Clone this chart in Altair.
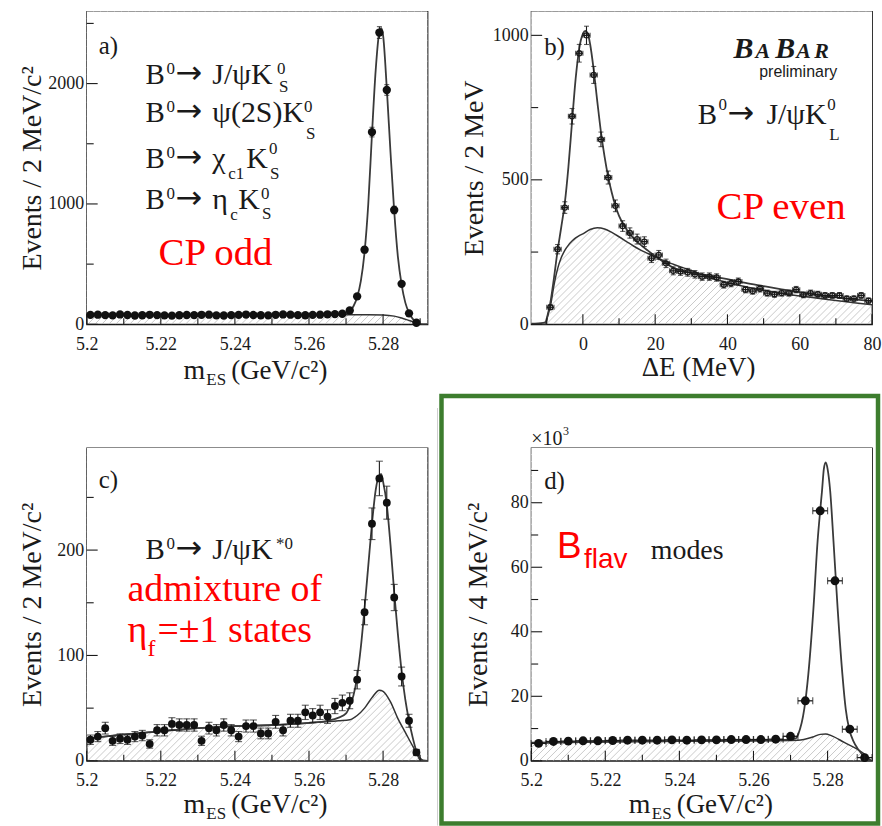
import altair as alt
import numpy as np
import pandas as pd

SERIF = "Liberation Serif"
SANS = "Liberation Sans"
ARROWF = "DejaVu Sans"
INK = "#1a1a1a"
RED = "#ff0000"
GREEN = "#3d7d2e"
W, H = 342, 314

# ---------------- data ----------------
# a) CP-odd modes, m_ES, 2 MeV bins
a_bins = [round(5.201 + 0.002 * i, 3) for i in range(45)]
a_counts = [78, 80, 76, 74, 82, 77, 73, 75, 79, 76, 74, 72, 75, 77, 76, 79, 80, 74,
            73, 76, 78, 81, 77, 75, 74, 79, 82, 80, 76, 75, 78, 80, 83, 85, 88,
            115, 232, 620, 1597, 2424, 1947, 950, 336, 91, 13]
a_fit_x = [5.200, 5.210, 5.220, 5.230, 5.240, 5.250, 5.260, 5.265, 5.268, 5.270, 5.271,
           5.272, 5.273, 5.274, 5.275, 5.276, 5.277, 5.278, 5.279, 5.2795, 5.280, 5.281,
           5.282, 5.283, 5.284, 5.285, 5.286, 5.287, 5.288, 5.289, 5.290, 5.292]
a_fit_y = [76, 76, 76.5, 77, 77, 77.5, 78, 79, 82, 92, 110, 150, 225, 360, 600, 1000,
           1580, 2110, 2430, 2460, 2400, 1960, 1430, 940, 560, 330, 180, 95, 45, 15, 2, 0]
a_bkg_x = [5.200, 5.220, 5.240, 5.260, 5.270, 5.276, 5.280, 5.283, 5.285, 5.287, 5.289,
           5.2905, 5.292]
a_bkg_y = [76, 76.5, 77, 78, 79, 80, 78, 68, 52, 32, 12, 0, 0]

# b) J/psi K_L, Delta E, 2 MeV bins
b_bins = list(range(-9, 80, 2))
b_counts = [59, 260, 404, 720, 938, 1000, 863, 640, 508, 410, 340, 316, 295, 286, 229,
            240, 211, 185, 183, 180, 173, 165, 165, 162, 137, 142, 148, 120, 115, 123,
            108, 104, 108, 108, 120, 102, 108, 104, 100, 100, 100, 89, 89, 100, 82]
b_fit_x = [-14.3, -11, -10.3, -10, -9.5, -9, -8, -7, -6, -5, -4, -3, -2, -1, 0, 0.7, 1.5,
           2, 3, 4, 5, 6, 7, 8, 9, 10, 12, 14, 16, 18, 20, 25, 30, 35, 40, 45, 50, 55,
           60, 65, 70, 75, 80]
b_fit_y = [2, 5, 8, 20, 45, 75, 160, 255, 335, 420, 545, 700, 850, 955, 1005, 1015, 1000,
           970, 880, 770, 665, 580, 510, 455, 410, 375, 330, 298, 275, 255, 236, 196, 178,
           168, 156, 143, 132, 121, 111, 101, 93, 86, 80]
b_bkg_x = [-14.3, -10.3, -10, -9.5, -9, -8, -7, -6, -5, -4, -3, -2, -1, 0, 2, 4, 6, 8, 10,
           12, 14, 16, 18, 20, 25, 30, 35, 40, 45, 50, 55, 60, 65, 70, 75, 80]
b_bkg_y = [0, 0, 15, 40, 62, 135, 192, 230, 256, 274, 288, 299, 307, 313, 328, 334, 330,
           318, 303, 287, 271, 257, 245, 233, 208, 186, 162, 144, 130, 118, 107, 98, 90,
           82, 75, 68]

# c) J/psi K*0, m_ES, 2 MeV bins
c_bins = [round(5.201 + 0.002 * i, 3) for i in range(45)]
c_counts = [20, 23, 31, 19, 21, 20, 23, 24, 16, 29, 29, 35, 34, 34, 34, 19, 31, 29, 34,
            29, 23, 33, 33, 26, 26, 37, 29, 38, 38, 46, 43, 46, 42, 52, 55, 57,
            77, 141, 225, 268, 245, 155, 80, 38, 8]
c_fit_x = [5.200, 5.210, 5.220, 5.230, 5.240, 5.250, 5.260, 5.265, 5.268, 5.270, 5.271,
           5.272, 5.273, 5.274, 5.275, 5.276, 5.277, 5.278, 5.279, 5.2795, 5.280, 5.281,
           5.282, 5.283, 5.284, 5.285, 5.286, 5.287, 5.288, 5.289, 5.290, 5.292]
c_fit_y = [21, 25, 28, 31, 33, 34, 36, 38, 41, 45, 52, 62, 80, 108, 145, 185, 225, 257,
           271, 272, 265, 243, 205, 160, 120, 85, 58, 38, 22, 9, 1, 0]
c_bkg_x = [5.200, 5.210, 5.220, 5.230, 5.240, 5.250, 5.260, 5.268, 5.271, 5.273, 5.275,
           5.277, 5.279, 5.280, 5.282, 5.284, 5.286, 5.288, 5.2895, 5.291, 5.292]
c_bkg_y = [21, 25, 28, 31, 33, 34, 36, 38, 39, 43, 50, 60, 67, 66, 56, 40, 27, 14, 5, 0, 0]

# d) B_flav modes, m_ES, 4 MeV bins (x 10^3)
d_bins = [round(5.202 + 0.004 * i, 3) for i in range(23)]
d_counts = [5.4, 6.0, 6.1, 6.2, 6.2, 6.3, 6.4, 6.4, 6.4, 6.5, 6.4, 6.5, 6.5, 6.6, 6.6,
            6.6, 6.7, 7.6, 18.6, 77.5, 55.8, 9.8, 1.0]
d_fit_x = [5.200, 5.220, 5.240, 5.260, 5.270, 5.2715, 5.2721, 5.2737, 5.2748, 5.2762,
           5.2773, 5.2780, 5.2785, 5.2790, 5.2795, 5.2800, 5.2807, 5.2816, 5.2827, 5.2840,
           5.2849, 5.2858, 5.287, 5.288, 5.289, 5.290, 5.291, 5.292]
d_fit_y = [5.6, 5.9, 6.1, 6.3, 6.6, 7.0, 8.3, 16, 26.8, 47.5, 68, 77.5, 83.7, 90.5, 92.5,
           90.5, 83.7, 68, 47.5, 26.8, 16, 10, 6, 4, 2.5, 1.0, 0.2, 0]
d_bkg_x = [5.200, 5.220, 5.240, 5.260, 5.272, 5.276, 5.278, 5.2795, 5.281, 5.2845, 5.288,
           5.2905, 5.2915, 5.292]
d_bkg_y = [5.5, 5.9, 6.1, 6.2, 6.4, 7.4, 8.2, 8.3, 7.8, 5.7, 3.6, 1.5, 0.3, 0]

MES_MAJ = [5.2, 5.22, 5.24, 5.26, 5.28]
MES_MIN = [5.21, 5.23, 5.25, 5.27, 5.29]

# ---------------- annotations (text, x, y, size, color, font, style, weight, align) ----------------
ARW = 32


def line_b0(x0, y, ysup):
    return [("B", x0, y, 29), ("0", x0 + 21, ysup, 17),
            ("\u2192", x0 + 30, y - 1, ARW, INK, ARROWF)]


MTITLE = [("m", 97, 0, 28), ("ES", 120, 6, 17), ("(GeV/c\u00b2)", 145, 0, 27)]


def mtitle(dx, y):
    return [(s, x + dx, y + dy, fs) for (s, x, dy, fs) in MTITLE]


ANN = {
    "a": [("a)", 12, 43, 25)]
    + line_b0(59, 73, 63) + [("J/\u03c8K", 126, 73, 30), ("0", 191, 63, 17), ("S", 193, 81, 17)]
    + line_b0(59, 111, 101) + [("\u03c8(2S)K", 126, 111, 30), ("0", 218, 101, 17), ("S", 220, 128, 17)]
    + line_b0(59, 157, 147) + [("\u03c7", 126, 157, 30), ("c1", 142, 168, 17), ("K", 160, 157, 30),
                               ("0", 183, 143, 17), ("S", 184, 168, 17)]
    + line_b0(59, 198, 188) + [("\u03b7", 126, 198, 30), ("c", 144, 209, 17), ("K", 152, 198, 30),
                               ("0", 175, 188, 17), ("S", 176, 208, 17)]
    + [("CP odd", 72, 254, 39, RED)]
    + mtitle(0, 369),
    "b": [("b)", 13, 44, 25),
          ("B", 203, 47, 30, INK, SERIF, "italic", "bold"), ("A", 225, 47, 22, INK, SERIF, "italic", "bold"),
          ("B", 245, 47, 30, INK, SERIF, "italic", "bold"), ("A", 266, 47, 22, INK, SERIF, "italic", "bold"),
          ("R", 284, 47, 22, INK, SERIF, "italic", "bold"),
          ("preliminary", 307, 66, 16, INK, SANS, "normal", "normal", "right")]
    + line_b0(167, 113, 99) + [("J/\u03c8K", 236, 113, 30), ("0", 297, 99, 17), ("L", 299, 129, 17),
                               ("CP even", 186, 208, 39, RED),
                               ("\u0394E (MeV)", 111, 366, 27)],
    "c": [("c)", 12, 40, 25)]
    + line_b0(59, 111, 101) + [("J/\u03c8K", 126, 111, 30), ("*0", 190, 101, 17),
                               ("admixture of", 41, 154, 38, RED),
                               ("\u03b7", 41, 195, 38, RED), ("f", 61, 209, 24, RED),
                               ("=\u00b11 states", 71, 195, 38, RED)]
    + mtitle(0, 366),
    "d": [("\u00d710", 0, -3, 20), ("3", 32, -13, 12), ("d)", 13, 41, 25),
          ("B", 26, 110, 37, RED, SANS), ("flav", 53, 121, 28, RED, SANS),
          ("modes", 120, 111, 28)]
    + mtitle(1, 366),
}

ONE = pd.DataFrame({"k": [0]})


def txt(s, x, y, size, color=INK, font=SERIF, style="normal", weight="normal", align="left"):
    return alt.Chart(ONE).mark_text(
        text=s, align=align, baseline="alphabetic", font=font, fontSize=size,
        color=color, fontStyle=style, fontWeight=weight,
    ).encode(x=alt.value(x), y=alt.value(y))


def panel(key, xdom, ydom, xmaj, xmin, ymaj, ymin, xfmt, ytitle, ytx,
          bins, counts, fit_x, fit_y, bkg_x, bkg_y, style):
    xs = alt.Scale(domain=xdom, nice=False, zero=False)
    ys = alt.Scale(domain=ydom, nice=False, zero=False)
    xax = alt.Axis(values=xmaj, format=xfmt, title=None, grid=False, domain=False,
                   ticks=False, tickSize=0, labelFont=SERIF, labelFontSize=18,
                   labelColor=INK, labelPadding=11, labelFlush=False, labelOverlap=False,
                   labelBaseline="top")
    yax = alt.Axis(values=ymaj, format="d", title=ytitle, grid=False, domain=False,
                   ticks=False, tickSize=0, labelFont=SERIF, labelFontSize=18,
                   labelColor=INK, labelPadding=3, labelFlush=False, labelOverlap=False,
                   titleFont=SERIF, titleFontSize=28, titleFontWeight="normal",
                   titleColor=INK, titleAngle=270, titleX=ytx, titleY=H / 2,
                   titleAlign="center", titleBaseline="middle")

    def X(f):
        return alt.X(f, scale=xs, axis=xax)

    def Y(f):
        return alt.Y(f, scale=ys, axis=yax)

    layers = []
    # hatch pattern under background curve (45 degree lines, 7 px apart)
    span = xdom[1] - xdom[0]
    offs = np.arange(-H, W + 8, 7.0)
    hatch = pd.DataFrame({"h0": xdom[0] + offs * span / W,
                          "h1": xdom[0] + (offs + H) * span / W})
    layers.append(alt.Chart(hatch).mark_rule(clip=True, color="#b8b8b8", strokeWidth=0.75)
                  .encode(x=X("h0:Q"), x2="h1", y=alt.value(H), y2=alt.value(0)))
    bkg = pd.DataFrame({"x": bkg_x, "y": bkg_y})
    bkg["top"] = ydom[1]
    layers.append(alt.Chart(bkg).mark_area(clip=True, fill="white", fillOpacity=1,
                                           interpolate="monotone")
                  .encode(x=X("x:Q"), y=Y("y:Q"), y2=alt.Y2("top")))
    layers.append(alt.Chart(bkg).mark_line(clip=True, color="#333333", strokeWidth=1.5,
                                           interpolate="monotone")
                  .encode(x=X("x:Q"), y=Y("y:Q")))
    fit = pd.DataFrame({"x": fit_x, "y": fit_y})
    layers.append(alt.Chart(fit).mark_line(clip=True, color="#3a3a3a", strokeWidth=1.8,
                                           interpolate="monotone")
                  .encode(x=X("x:Q"), y=Y("y:Q")))

    pts = pd.DataFrame({"x": bins, "y": counts})
    if style["yerr"]:
        e = np.sqrt(pts["y"])
        pts["lo"] = pts["y"] - e
        pts["hi"] = pts["y"] + e
        layers.append(alt.Chart(pts).mark_rule(color=INK, strokeWidth=1.1)
                      .encode(x=X("x:Q"), y=Y("lo:Q"), y2="hi"))
        for f in ("lo", "hi"):
            layers.append(alt.Chart(pts).mark_tick(orient="horizontal", size=style["cap"],
                                                   thickness=1.1, color=INK)
                          .encode(x=X("x:Q"), y=Y(f + ":Q")))
    if style["xerr"]:
        hw = style["xerr"]
        pts["xl"] = pts["x"] - hw
        pts["xh"] = pts["x"] + hw
        layers.append(alt.Chart(pts).mark_rule(color=INK, strokeWidth=1.3)
                      .encode(x=X("xl:Q"), x2="xh", y=Y("y:Q")))
        for f in ("xl", "xh"):
            layers.append(alt.Chart(pts).mark_tick(orient="vertical", size=style["vcap"],
                                                   thickness=1.2, color=INK)
                          .encode(x=X(f + ":Q"), y=Y("y:Q")))
    if style["open"]:
        layers.append(alt.Chart(pts).mark_point(shape="circle", filled=False, size=style["size"],
                                                color=INK, strokeWidth=1.3, opacity=1)
                      .encode(x=X("x:Q"), y=Y("y:Q")))
    else:
        layers.append(alt.Chart(pts).mark_circle(size=style["size"], color="#111111", opacity=1)
                      .encode(x=X("x:Q"), y=Y("y:Q")))

    # inward ticks
    for vals, ln in ((xmaj, 10), (xmin, 6)):
        layers.append(alt.Chart(pd.DataFrame({"t": vals})).mark_rule(color=INK, strokeWidth=1.1)
                      .encode(x=X("t:Q"), y=alt.value(H), y2=alt.value(H - ln)))
    for vals, ln in ((ymaj, 11), (ymin, 7)):
        layers.append(alt.Chart(pd.DataFrame({"t": vals})).mark_rule(color=INK, strokeWidth=1.1)
                      .encode(y=Y("t:Q"), x=alt.value(0), x2=alt.value(ln)))

    for a in ANN[key]:
        layers.append(txt(*a))
    return layers


pa = panel("a", [5.2, 5.292], [0, 2600], MES_MAJ, MES_MIN, [0, 1000, 2000], [500, 1500, 2500],
           ".3~g", "Events / 2 MeV/c\u00b2", -54, a_bins, a_counts, a_fit_x, a_fit_y,
           a_bkg_x, a_bkg_y, dict(yerr=True, xerr=0, cap=5, size=70, open=False))
# anchor fixing the page origin
pa.append(alt.Chart(ONE).mark_rule(color="white", strokeWidth=1)
          .encode(x=alt.value(-85.5), x2=alt.value(-84.5), y=alt.value(-8.5), y2=alt.value(-8.5)))

pb = panel("b", [-14.3, 80], [0, 1083], [0, 20, 40, 60, 80], [-10, 10, 30, 50, 70],
           [0, 500, 1000], [250, 750], "d", "Events / 2 MeV", -57, b_bins, b_counts,
           b_fit_x, b_fit_y, b_bkg_x, b_bkg_y,
           dict(yerr=True, xerr=1, cap=5, vcap=5, size=26, open=True))

pc = panel("c", [5.2, 5.292], [0, 297], MES_MAJ, MES_MIN, [0, 100, 200], [50, 150, 250],
           ".3~g", "Events / 2 MeV/c\u00b2", -54, c_bins, c_counts, c_fit_x, c_fit_y,
           c_bkg_x, c_bkg_y, dict(yerr=True, xerr=0, cap=7, size=62, open=False))
pc.append(alt.Chart(ONE).mark_rule(color="#cfcfcf", strokeWidth=1)
          .encode(x=alt.value(352), x2=alt.value(352), y=alt.value(-40), y2=alt.value(379)))

pd_ = panel("d", [5.2, 5.292], [0, 97], MES_MAJ, MES_MIN, [0, 20, 40, 60, 80],
            [10, 30, 50, 70, 90], ".3~g", "Events / 4 MeV/c\u00b2", -53, d_bins, d_counts,
            d_fit_x, d_fit_y, d_bkg_x, d_bkg_y,
            dict(yerr=False, xerr=0.002, cap=0, vcap=7, size=80, open=False))
pd_.append(alt.Chart(ONE).mark_rect(filled=False, stroke=GREEN, strokeWidth=4.5)
           .encode(x=alt.value(-90), x2=alt.value(348), y=alt.value(-52), y2=alt.value(377)))

charts = [alt.layer(*p).properties(width=W, height=H) for p in (pa, pb, pc, pd_)]

chart = alt.concat(*charts, columns=2).properties(
    spacing={"row": 124, "column": 104},
    bounds="flush",
    padding=0,
    background="white",
).configure_view(stroke=INK, strokeWidth=1.3)

chart.save("out.html", embed_options={"renderer": "svg", "actions": False})
